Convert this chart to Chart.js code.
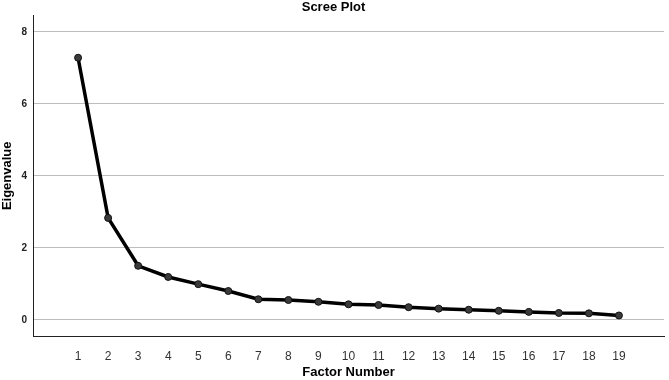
<!DOCTYPE html>
<html>
<head>
<meta charset="utf-8">
<script src="https://cdn.jsdelivr.net/npm/chart.js@4"></script>
<style>
  html, body { margin: 0; padding: 0; background: #fff; }
  #wrap { width: 669px; height: 380px; }
</style>
</head>
<body>
<div id="wrap"><canvas id="chart-scree"></canvas></div>
<script>
// factor numbers and their eigenvalues
const factorNumbers = [1, 2, 3, 4, 5, 6, 7, 8, 9, 10, 11, 12, 13, 14, 15, 16, 17, 18, 19];
const eigenvalues = [7.28, 2.83, 1.50, 1.19, 0.99, 0.80, 0.57, 0.55, 0.50, 0.43, 0.41, 0.35, 0.31, 0.28, 0.25, 0.22, 0.19, 0.18, 0.12];
const yTickValues = [0, 2, 4, 6, 8];

const points = factorNumbers.map(function (f, i) {
    return { x: f, y: eigenvalues[i] };
});

Chart.defaults.font.family = '"Liberation Sans", Arial, sans-serif';
Chart.defaults.color = '#222';

const ctx = document.getElementById('chart-scree').getContext('2d');
const chart = new Chart(ctx, {
    type: 'line',
    data: {
        datasets: [{
            data: points,
            borderColor: '#000',
            borderWidth: 3.5,
            pointRadius: 3.5,
            pointBackgroundColor: '#3a3a3a',
            pointBorderColor: '#111',
            pointBorderWidth: 1,
            tension: 0,
            fill: false
        }]
    },
    options: {
        animation: false,
        responsive: true,
        maintainAspectRatio: false,
        layout: { padding: { left: 0, right: 2, top: 0, bottom: 0 } },
        plugins: {
            legend: { display: false },
            tooltip: { enabled: false },
            title: {
                display: true,
                text: 'Scree Plot',
                color: '#000',
                font: { size: 13, weight: 'bold' },
                padding: { top: 0, bottom: 0 }
            }
        },
        scales: {
            x: {
                type: 'linear',
                min: -0.5,
                max: 20.5,
                afterBuildTicks: function (axis) {
                    axis.ticks = factorNumbers.map(function (v) { return { value: v }; });
                },
                afterFit: function (axis) { axis.height = 44; },
                grid: { display: false },
                border: { display: true, color: '#222', width: 1 },
                ticks: {
                    color: '#333',
                    font: { size: 12 },
                    padding: 5,
                    maxRotation: 0,
                    autoSkip: false
                },
                title: {
                    display: true,
                    text: 'Factor Number',
                    color: '#000',
                    font: { size: 13, weight: 'bold' },
                    padding: { top: 3, bottom: 0 }
                }
            },
            y: {
                min: -0.45,
                max: 8.45,
                afterBuildTicks: function (axis) {
                    axis.ticks = yTickValues.map(function (v) { return { value: v }; });
                },
                afterFit: function (axis) { axis.width = 33; },
                grid: { color: '#bdbdbd', lineWidth: 1, drawTicks: false },
                border: { display: true, color: '#222', width: 1 },
                ticks: {
                    color: '#222',
                    font: { size: 10, weight: 'bold' },
                    padding: 6
                },
                title: {
                    display: true,
                    text: 'Eigenvalue',
                    color: '#000',
                    font: { size: 13, weight: 'bold' },
                    padding: { top: 0, bottom: 0 }
                }
            }
        }
    }
});
</script>
</body>
</html>
